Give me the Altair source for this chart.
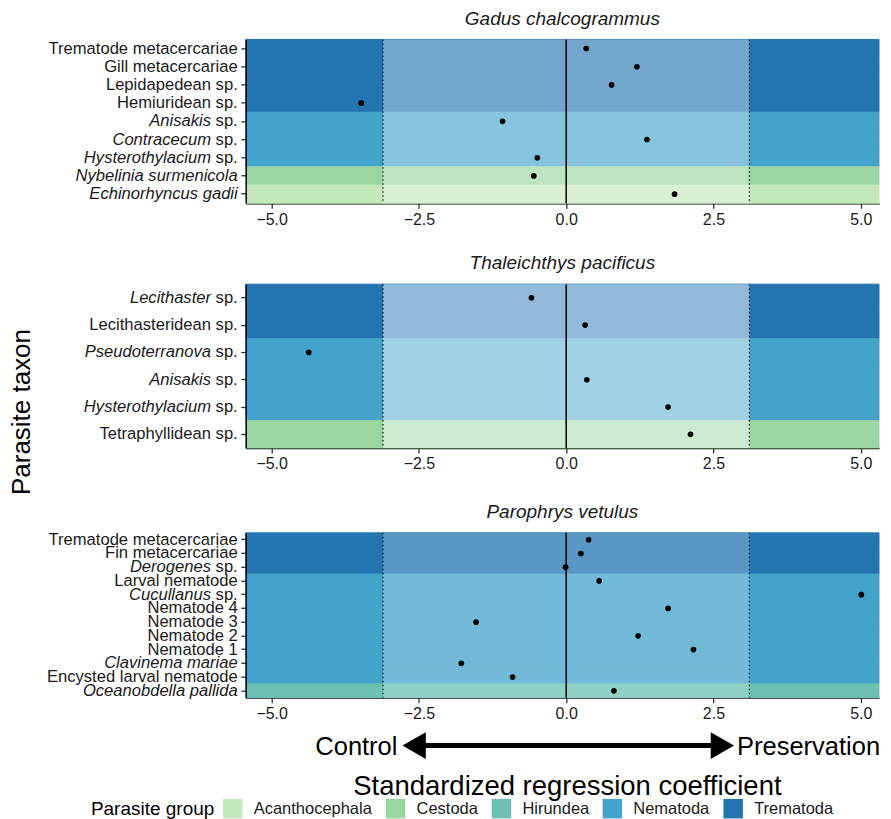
import altair as alt
import pandas as pd

FONT = "Liberation Sans"

# ---- data -------------------------------------------------------------
GROUPS = ["Acanthocephala", "Cestoda", "Hirundea", "Nematoda", "Trematoda"]
GROUP_COLORS = ["#c5e8bb", "#9ad6a2", "#6cc1b4", "#43a3ca", "#2474b0"]

ITALIC_GENERA = ["Anisakis", "Contracecum", "Hysterothylacium", "Lecithaster",
                 "Pseudoterranova", "Derogenes", "Cucullanus"]
ITALIC_SPECIES = ["Nybelinia surmenicola", "Echinorhyncus gadii",
                  "Clavinema mariae", "Oceanobdella pallida"]

G_TITLE = "Gadus chalcogrammus"
G_TAXA = ["Trematode metacercariae", "Gill metacercariae", "Lepidapedean sp.",
          "Hemiuridean sp.", "Anisakis sp.", "Contracecum sp.",
          "Hysterothylacium sp.", "Nybelinia surmenicola", "Echinorhyncus gadii"]
G_GROUP = ["Trematoda", "Trematoda", "Trematoda", "Trematoda", "Nematoda",
           "Nematoda", "Nematoda", "Cestoda", "Acanthocephala"]
G_COEF = [0.34, 1.20, 0.77, -3.48, -1.08, 1.37, -0.49, -0.55, 1.84]

T_TITLE = "Thaleichthys pacificus"
T_TAXA = ["Lecithaster sp.", "Lecithasteridean sp.", "Pseudoterranova sp.",
          "Anisakis sp.", "Hysterothylacium sp.", "Tetraphyllidean sp."]
T_GROUP = ["Trematoda", "Trematoda", "Nematoda", "Nematoda", "Nematoda", "Cestoda"]
T_COEF = [-0.59, 0.32, -4.37, 0.35, 1.73, 2.11]

P_TITLE = "Parophrys vetulus"
P_TAXA = ["Trematode metacercariae", "Fin metacercariae", "Derogenes sp.",
          "Larval nematode", "Cucullanus sp.", "Nematode 4", "Nematode 3",
          "Nematode 2", "Nematode 1", "Clavinema mariae",
          "Encysted larval nematode", "Oceanobdella pallida"]
P_GROUP = ["Trematoda", "Trematoda", "Trematoda", "Nematoda", "Nematoda",
           "Nematoda", "Nematoda", "Nematoda", "Nematoda", "Nematoda",
           "Nematoda", "Hirundea"]
P_COEF = [0.38, 0.25, -0.01, 0.56, 5.01, 1.73, -1.53, 1.22, 2.16, -1.78, -0.91, 0.81]

CUTOFF = [-3.11, 3.11]
ZERO = [0.0]
X_DOMAIN = [-5.44, 5.31]
X_TICKS = [-5.0, -2.5, 0.0, 2.5, 5.0]
ARROW = [-2.78, 2.85]
ARROW_LABELS = ["Control", "Preservation"]
X_TITLE = ["Standardized regression coefficient"]
Y_TITLE = ["Parasite taxon"]
LEGEND_TITLE = "Parasite group"

# ---- layout constants ---------------------------------------------------
W = 634
LABEL_SIZE = 16.6
SP_OFFSET = 1.612 * LABEL_SIZE  # width of " sp."


def split(name):
    if name in ITALIC_SPECIES:
        return name, ""
    g = name.split(" ")[0]
    if g in ITALIC_GENERA:
        return g, name[len(g) + 1:]
    return "", name


LEGEND = alt.Legend(
    title=LEGEND_TITLE, orient="none", legendX=-155, legendY=760,
    direction="horizontal", titleOrient="left", symbolType="square",
    symbolSize=380, symbolStrokeWidth=0, labelFontSize=16.5, titleFontSize=19,
    titleFontWeight="normal", labelOffset=11, columnPadding=13, titlePadding=8,
    labelFont=FONT, titleFont=FONT, labelColor="#1a1a1a", titleColor="black",
    titleBaseline="middle", titleAnchor="middle",
)
COLOR_SCALE = alt.Scale(domain=GROUPS, range=GROUP_COLORS)


def panel(title, taxa, groups, coefs, fade, height, ytitle=False, bottom=False):
    parts = [split(t) for t in taxa]
    df = pd.DataFrame({
        "taxon": taxa, "group": groups, "coef": coefs,
        "ital": [p[0] for p in parts], "plain": [p[1] for p in parts],
    })
    xscale = alt.Scale(domain=X_DOMAIN, nice=False, zero=False)
    xaxis = alt.Axis(values=X_TICKS, format=".1f", grid=False, tickSize=5,
                     labelPadding=3, title=None)

    def X(f):
        return alt.X(f, scale=xscale, axis=xaxis)

    Y = alt.Y("taxon:N", scale=alt.Scale(domain=list(taxa), paddingInner=0,
                                         paddingOuter=0),
              axis=alt.Axis(labels=False, tickSize=5, grid=False, title=None))

    base = alt.Chart(df)
    bands = base.mark_rect(strokeWidth=1).encode(
        y=Y, x=alt.value(0), x2=alt.value(W),
        color=alt.Color("group:N", scale=COLOR_SCALE, legend=LEGEND),
        stroke=alt.Stroke("group:N", scale=COLOR_SCALE, legend=None),
    )
    cut_df = pd.DataFrame({"lo": [CUTOFF[0]], "hi": [CUTOFF[1]]})
    fade_rect = alt.Chart(cut_df).mark_rect(color="white", opacity=fade).encode(
        x=X("lo:Q"), x2="hi:Q", y=alt.value(0), y2=alt.value(height))
    dots = alt.Chart(pd.DataFrame({"c": CUTOFF})).mark_rule(
        color="#222", strokeWidth=1.3, strokeDash=[1.5, 2.5]).encode(x=X("c:Q"))
    zero = alt.Chart(pd.DataFrame({"c": ZERO})).mark_rule(
        color="black", strokeWidth=1.5).encode(x=X("c:Q"))
    pts = base.mark_circle(size=32, color="black", opacity=1).encode(
        x=X("coef:Q"), y=Y)

    txt = dict(align="right", baseline="middle", fontSize=LABEL_SIZE,
               color="#1a1a1a", font=FONT)
    plain_lbl = base.mark_text(**txt).encode(y=Y, x=alt.value(-8), text="plain:N")
    ital_full = base.transform_filter("datum.plain == ''").mark_text(
        fontStyle="italic", **txt).encode(y=Y, x=alt.value(-8), text="ital:N")
    ital_gen = base.transform_filter("datum.ital != '' && datum.plain != ''").mark_text(
        fontStyle="italic", **txt).encode(y=Y, x=alt.value(-8 - SP_OFFSET), text="ital:N")

    layers = [bands, fade_rect, dots, zero, pts, plain_lbl, ital_full, ital_gen]

    if ytitle:
        ytxt = alt.Chart(pd.DataFrame({"t": Y_TITLE})).mark_text(
            angle=270, fontSize=26, align="center", baseline="middle",
            font=FONT, color="black").encode(
            x=alt.value(-224), y=alt.value(128), text="t:N")
        layers.append(ytxt)

    if bottom:
        AY = 213
        arr = pd.DataFrame({"a": [ARROW[0]], "b": [ARROW[1]]})
        shaft = alt.Chart(arr).mark_rule(
            color="black", strokeWidth=5, xOffset=11, x2Offset=-11).encode(
            x=X("a:Q"), x2="b:Q", y=alt.value(AY))
        lhead = alt.Chart(pd.DataFrame({"a": [ARROW[0]]})).mark_point(
            shape="triangle-left", filled=True, size=729, color="black",
            opacity=1, xOffset=11.7, strokeWidth=0).encode(x=X("a:Q"), y=alt.value(AY))
        rhead = alt.Chart(pd.DataFrame({"a": [ARROW[1]]})).mark_point(
            shape="triangle-right", filled=True, size=729, color="black",
            opacity=1, xOffset=-11.7, strokeWidth=0).encode(x=X("a:Q"), y=alt.value(AY))
        lab_df = pd.DataFrame({"a": ARROW, "t": ARROW_LABELS})
        ltxt = alt.Chart(lab_df).transform_filter(
            alt.datum.t == ARROW_LABELS[0]).mark_text(
            align="right", baseline="middle", dx=-5, dy=1, fontSize=25.5,
            font=FONT, color="black").encode(x=X("a:Q"), y=alt.value(AY), text="t:N")
        rtxt = alt.Chart(lab_df).transform_filter(
            alt.datum.t == ARROW_LABELS[1]).mark_text(
            align="left", baseline="middle", dx=3, dy=1, fontSize=25.5,
            font=FONT, color="black").encode(x=X("a:Q"), y=alt.value(AY), text="t:N")
        xtxt = alt.Chart(pd.DataFrame({"t": X_TITLE})).mark_text(
            fontSize=27.5, align="center", baseline="alphabetic", font=FONT,
            color="black").encode(x=alt.value(322), y=alt.value(262), text="t:N")
        layers += [shaft, lhead, rhead, ltxt, rtxt, xtxt]

    return alt.layer(*layers).properties(
        width=W, height=height,
        title=alt.TitleParams(title, fontStyle="italic", fontSize=19,
                              fontWeight="normal", anchor="middle", offset=10,
                              font=FONT, color="#1a1a1a"),
    )


p1 = panel(G_TITLE, G_TAXA, G_GROUP, G_COEF, 0.36, 164)
p2 = panel(T_TITLE, T_TAXA, T_GROUP, T_COEF, 0.5, 164, ytitle=True)
p3 = panel(P_TITLE, P_TAXA, P_GROUP, P_COEF, 0.25, 165, bottom=True)

top_two = alt.vconcat(p1, p2, spacing=27)

chart = alt.vconcat(top_two, p3, spacing=6).properties(
    padding={"left": 1, "top": 1, "right": 2, "bottom": 0}
).configure(font=FONT).configure_view(stroke=None).configure_axis(
    domainColor="black", domainWidth=1.4, tickColor="#333", tickWidth=1.3,
    labelColor="#1a1a1a", labelFontSize=16, labelFont=FONT, titleFont=FONT,
    titleColor="black", grid=False,
)

chart.save("out.html", embed_options={"renderer": "svg", "actions": False})
